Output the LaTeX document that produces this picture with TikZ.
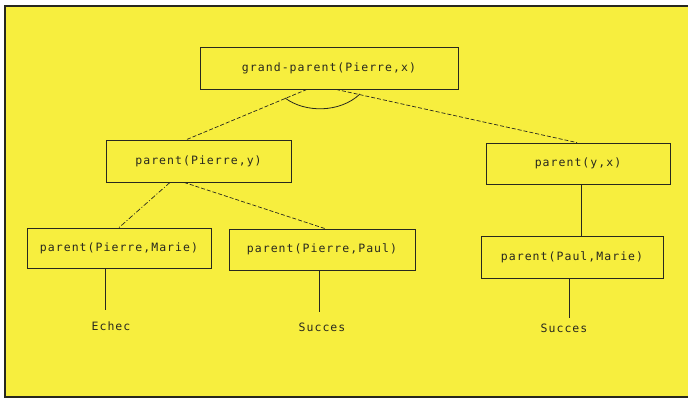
\documentclass[tikz,border=0pt]{standalone}
\usepackage{fontspec}
\usetikzlibrary{calc}
\newfontfamily\plotfont[LetterSpace=9]{DejaVu Sans Mono}
\definecolor{paper}{RGB}{247,238,62}
\definecolor{ink}{RGB}{40,40,30}
\tikzset{
  goal/.style={draw=ink, line width=0.8pt, rectangle, inner sep=0pt, text=ink,
    font=\plotfont\fontsize{11.5}{13}\selectfont},
  leaf/.style={inner sep=0pt, text=ink, font=\plotfont\fontsize{11.5}{13}\selectfont},
  dashlink/.style={draw=ink, line width=0.7pt, dash pattern=on 4pt off 2pt},
  solidlink/.style={draw=ink, line width=0.8pt},
}
\begin{document}
\begin{tikzpicture}[x=1pt,y=-1pt]
\useasboundingbox (0,0) rectangle (688,401);
\fill[white] (0,0) rectangle (688,401);
\fill[paper] (5,6) rectangle (688,397);
\draw[ink, line width=1.6pt] (688,6) -- (5,6) -- (5,397) -- (688,397);

\node[goal, minimum width=258pt, minimum height=42pt] (gp) at (329,68) {grand-parent(Pierre,x)};
\node[goal, minimum width=185pt, minimum height=42pt] (ppy) at (198.5,161) {parent(Pierre,y)};
\node[goal, minimum width=184pt, minimum height=41pt] (pyx) at (578,163.5) {parent(y,x)};
\node[goal, minimum width=184pt, minimum height=40pt] (ppm) at (119,248) {parent(Pierre,Marie)};
\node[goal, minimum width=186pt, minimum height=41pt] (ppp) at (322,249.5) {parent(Pierre,Paul)};
\node[goal, minimum width=182pt, minimum height=42pt] (pam) at (572,257) {parent(Paul,Marie)};

\node[leaf] (echec) at (111,326) {Echec};
\node[leaf] (succ1) at (322,327) {Succes};
\node[leaf] (succ2) at (564,328) {Succes};

% AND-branch connectors
\draw[dashlink] ($(gp.south)+(-22,0)$) -- ($(ppy.north)+(-12,0)$);
\draw[dashlink] ($(gp.south)+(7,0)$) -- ($(pyx.north)+(-1,0)$);
\draw[ink, line width=0.8pt] (285,98) .. controls (305,113) and (340,113) .. (360,94);

% OR-branch connectors
\draw[dashlink, dash pattern=on 5pt off 2pt on 1pt off 2pt] ($(ppy.south)+(-28.5,0)$) -- (ppm.north);
\draw[dashlink] ($(ppy.south)+(-14.5,0)$) -- ($(ppp.north)+(3,0)$);
\draw[solidlink] ($(pyx.south)+(3,0)$) -- ($(pam.north)+(9,0)$);

% leaf connectors
\coordinate (e1) at (105,310);
\coordinate (e2) at (319,312);
\coordinate (e3) at (569,318);
\draw[solidlink] (ppm.south -| e1) -- (e1);
\draw[solidlink] (ppp.south -| e2) -- (e2);
\draw[solidlink] (pam.south -| e3) -- (e3);
\end{tikzpicture}
\end{document}
